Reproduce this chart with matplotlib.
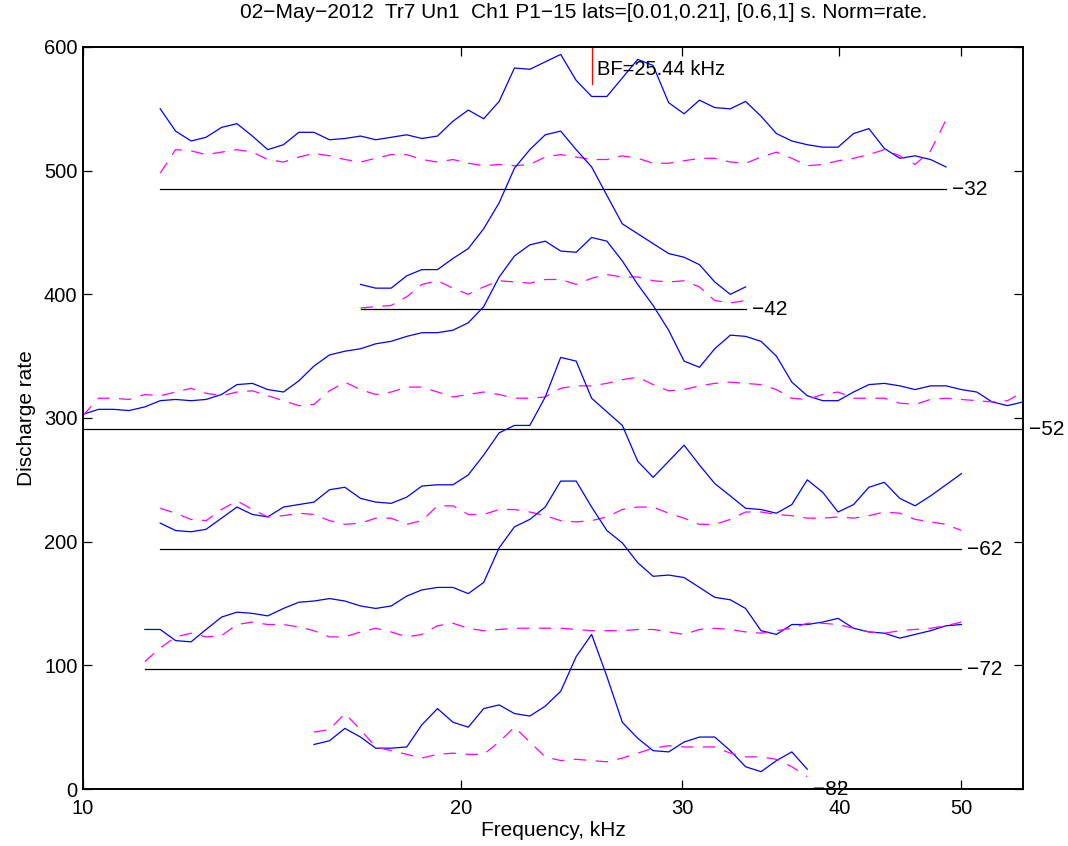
import numpy as np
import matplotlib
matplotlib.use("Agg")
from matplotlib import pyplot as plt

# tone frequencies (kHz), log spaced 10..56
FREQ_KHZ = [
    10.00, 10.29, 10.58, 10.88, 11.20, 11.52, 11.85, 12.19, 12.53, 12.89,
    13.26, 13.64, 14.03, 14.44, 14.85, 15.27, 15.71, 16.16, 16.63, 17.10,
    17.59, 18.10, 18.61, 19.15, 19.70, 20.26, 20.84, 21.44, 22.05, 22.68,
    23.33, 24.00, 24.69, 25.40, 26.12, 26.87, 27.64, 28.43, 29.25, 30.09,
    30.95, 31.83, 32.75, 33.68, 34.65, 35.64, 36.66, 37.71, 38.79, 39.90,
    41.05, 42.22, 43.43, 44.68, 45.95, 47.27, 48.63, 50.02, 51.45, 52.92,
    54.44, 56.00,
]

BF_KHZ = 25.44
LEVELS = [-32, -42, -52, -62, -72, -82]
# first frequency index tested at each level
FIRST_IDX = [5, 18, 0, 5, 4, 15]

# driven rate (window 0.01-0.21 s)
DRIVEN = {
    -32: [65, 47, 39, 42, 50, 53, 43, 32, 36, 46, 46, 40, 41, 43, 40, 42, 44,
          41, 43, 55, 64, 57, 71, 98, 97, 103, 109, 88, 75, 75, 90, 105, 100,
          70, 61, 72, 66, 65, 71, 59, 45, 39, 36, 34, 34, 45, 49, 33, 25, 27,
          24, 18],
    -42: [20, 17, 17, 27, 32, 32, 41, 49, 65, 86, 114, 129, 141, 144, 129,
          115, 92, 69, 61, 53, 45, 42, 36, 22, 12, 18],
    -52: [12, 16, 16, 15, 18, 23, 24, 23, 24, 28, 36, 37, 32, 30, 39, 51, 60,
          63, 65, 69, 71, 75, 78, 78, 80, 86, 99, 123, 140, 149, 152, 144, 143,
          155, 152, 136, 117, 100, 80, 55, 50, 65, 76, 75, 71, 59, 38, 27, 23,
          23, 30, 36, 37, 35, 32, 35, 35, 32, 30, 22, 19, 22],
    -62: [21, 15, 14, 16, 25, 34, 28, 26, 34, 36, 38, 48, 50, 41, 38, 37, 42,
          51, 52, 52, 60, 76, 94, 100, 100, 123, 155, 152, 122, 111, 100, 71,
          58, 71, 84, 68, 53, 43, 33, 32, 29, 36, 56, 46, 30, 36, 50, 54, 41,
          35, 43, 52, 61],
    -72: [32, 32, 23, 22, 32, 42, 46, 45, 43, 49, 54, 55, 57, 55, 51, 49, 51,
          59, 64, 66, 66, 61, 70, 98, 115, 121, 131, 152, 152, 131, 112, 102,
          86, 75, 76, 74, 66, 58, 56, 49, 31, 28, 36, 36, 38, 41, 33, 30, 29,
          25, 28, 31, 35, 36],
    -82: [36, 39, 49, 42, 33, 33, 34, 52, 65, 54, 50, 65, 68, 61, 59, 67, 79,
          107, 125, 91, 54, 41, 31, 30, 38, 42, 42, 31, 18, 14, 23, 30, 16],
}

# spontaneous rate (window 0.6-1 s)
SPONT = {
    -32: [13, 32, 31, 28, 30, 32, 30, 24, 22, 26, 29, 27, 24, 22, 25, 28, 28,
          24, 22, 24, 21, 19, 20, 19, 20, 26, 28, 26, 24, 24, 27, 25, 21, 21,
          23, 25, 25, 22, 21, 26, 30, 25, 19, 20, 23, 25, 28, 32, 27, 20, 31,
          56],
    -42: [1, 2, 3, 10, 20, 23, 17, 12, 18, 23, 22, 21, 24, 24, 20, 25, 28, 26,
          26, 23, 22, 23, 18, 7, 5, 7],
    -52: [11, 25, 25, 24, 28, 27, 30, 33, 29, 27, 30, 31, 27, 23, 19, 20, 31,
          38, 32, 28, 30, 34, 34, 30, 26, 28, 30, 28, 25, 25, 26, 33, 35, 35,
          37, 40, 42, 36, 31, 32, 35, 37, 38, 37, 36, 32, 25, 24, 28, 30, 25,
          25, 25, 21, 20, 24, 25, 24, 23, 22, 23, 30],
    -62: [33, 29, 24, 23, 32, 39, 32, 26, 27, 29, 28, 23, 20, 21, 25, 25, 20,
          23, 35, 35, 28, 28, 32, 32, 30, 27, 23, 22, 23, 26, 32, 34, 34, 29,
          25, 20, 20, 24, 30, 30, 28, 27, 25, 25, 26, 25, 27, 30, 29, 24, 22,
          20, 15],
    -72: [6, 17, 26, 29, 26, 27, 36, 38, 36, 36, 34, 31, 26, 26, 30, 33, 30,
          26, 28, 35, 37, 33, 31, 32, 33, 33, 33, 33, 32, 31, 31, 31, 32, 32,
          30, 28, 32, 33, 32, 30, 29, 31, 33, 37, 37, 36, 33, 30, 29, 31, 32,
          33, 35, 38],
    -82: [46, 48, 61, 48, 34, 31, 28, 25, 28, 29, 28, 28, 38, 50, 38, 26, 23,
          24, 23, 22, 25, 29, 33, 35, 34, 34, 34, 29, 26, 26, 24, 18, 10],
}

STEP = 97  # vertical spacing between levels

plt.rcParams['font.family'] = ['Liberation Sans', 'DejaVu Sans']
plt.rcParams['font.size'] = 14.5

fig = plt.figure(figsize=(10.68, 8.46), dpi=100)
ax = fig.add_axes([83 / 1068., 1 - 789 / 846., 940 / 1068., 742 / 846.])

freqs = np.array(FREQ_KHZ)
for level, i0 in zip(LEVELS, FIRST_IDX):
    off = STEP * (level - LEVELS[-1]) / 10
    driven = np.array(DRIVEN[level], dtype=float)
    spont = np.array(SPONT[level], dtype=float)
    f = freqs[i0:i0 + len(driven)]
    ax.plot(f, driven + off, color=(0, 0, 1), lw=0.9)
    ax.plot(f, spont + off, color=(1, 0, 1), lw=0.9, ls='--',
            dashes=(10, 7.5))
    ax.plot([f[0], f[-1]], [off, off], color='k', lw=0.9)
    ax.text(f[-1] * 1.011, off, u'\u2212%d' % -level, ha='left',
            va='center', fontsize=15, clip_on=False)

# best frequency marker
ax.plot([BF_KHZ, BF_KHZ], [570, 600], color='r', lw=0.9)
ax.text(BF_KHZ * 1.008, 582, 'BF=%.2f kHz' % BF_KHZ, ha='left', va='center',
        fontsize=14.5)

ax.set_xscale('log')
ax.set_xlim(FREQ_KHZ[0], FREQ_KHZ[-1])
ax.set_ylim(0, 600)
ax.set_xticks([10, 20, 30, 40, 50])
ax.set_xticklabels(['10', '20', '30', '40', '50'])
ax.xaxis.set_minor_locator(matplotlib.ticker.NullLocator())
ax.set_yticks(range(0, 601, 100))
ax.tick_params(direction='in', top=True, right=True, length=6.5,
               width=0.9, labelsize=14.5)
ax.tick_params(axis='x', pad=7)
ax.tick_params(axis='y', pad=4)
for sp in ax.spines.values():
    sp.set_linewidth(1.4)

ax.set_xlabel('Frequency, kHz', fontsize=15, labelpad=2)
ax.set_ylabel('Discharge rate', fontsize=15, labelpad=6)
fig.text(584 / 1068., 1 - 13 / 846.,
         u'02\u2212May\u22122012  Tr7 Un1  Ch1 P1\u221215 '
         u'lats=[0.01,0.21], [0.6,1] s. Norm=rate.',
         fontsize=15, ha='center', va='center')

fig.savefig('out.png', dpi=100)
